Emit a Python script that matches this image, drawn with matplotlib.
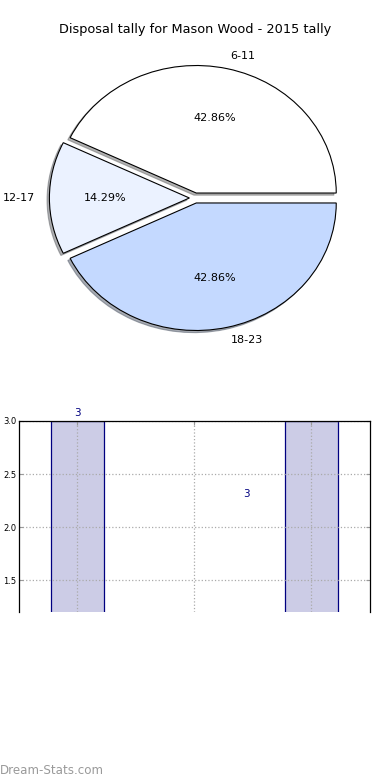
import matplotlib
matplotlib.use("Agg")
import matplotlib.pyplot as plt

# pie data
age_groups = ["6-11", "12-17", "18-23"]
tally = [3, 1, 3]
pie_colors = ["#ffffff", "#ebf2ff", "#c4d9ff"]

# bar data
bar_pos = [0, 1, 2]
bar_vals = [3, 1, 3]
bar_labels = ["3", "", "3"]


def draw_pie(fig):
    ax = fig.add_axes([0.0513, 0.5418, 0.8974, 0.4087])
    wedges, texts, autotexts = ax.pie(
        tally,
        labels=age_groups,
        colors=pie_colors,
        explode=[0.04, 0.04, 0.04],
        autopct="%.2f%%",
        shadow=dict(ox=-0.012, oy=-0.012, shade=0.6),
        startangle=0,
        wedgeprops=dict(edgecolor="black", linewidth=0.8),
        textprops=dict(fontsize=8),
    )
    ax.set_aspect("auto")
    ax.set_xlim(-1.25, 1.25)
    ax.set_ylim(-1.25, 1.25)
    ax.axis("off")
    return ax


def draw_bars(fig):
    ax = fig.add_axes([0.0487, 0.2154, 0.9, 0.2449])
    ax.bar(bar_pos, bar_vals, width=0.45, color="#ccccE6",
           edgecolor="#000080", linewidth=0.9, zorder=2)
    ax.set_xlim(-0.5, 2.5)
    ax.set_ylim(1.2, 3.0)
    ax.set_xticks(bar_pos)
    ax.set_xticklabels([])
    ax.set_yticks([1.5, 2.0, 2.5, 3.0])
    ax.tick_params(axis="both", direction="in", labelsize=6, length=3,
                   color="#999999", right=True, top=True, pad=2)
    ax.tick_params(axis="x", bottom=False)
    ax.grid(True, linestyle=":", color="#aaaaaa", linewidth=0.9, zorder=3)
    ax.set_axisbelow(False)
    ax.spines["bottom"].set_visible(False)
    for s in ["left", "right", "top"]:
        ax.spines[s].set_linewidth(0.9)
        ax.spines[s].set_zorder(5)
    # value labels (as placed in the original)
    ax.text(bar_pos[0], bar_vals[0] + 0.03, bar_labels[0], ha="center",
            va="bottom", fontsize=7.5, color="#000080", clip_on=False)
    ax.text(1.44, 2.31, bar_labels[2], ha="center", va="center",
            fontsize=7.5, color="#000080")
    return ax


fig = plt.figure(figsize=(3.9, 7.8), dpi=100)
fig.text(0.5, 1 - 30 / 780, "Disposal tally for Mason Wood - 2015 tally",
         ha="center", va="center", fontsize=9.3)
draw_pie(fig)
draw_bars(fig)
fig.text(0.0, 1 - 770 / 780, "Dream-Stats.com", ha="left", va="center",
         fontsize=8.6, color="#9a9a9a")
fig.savefig("out.png", dpi=100)
